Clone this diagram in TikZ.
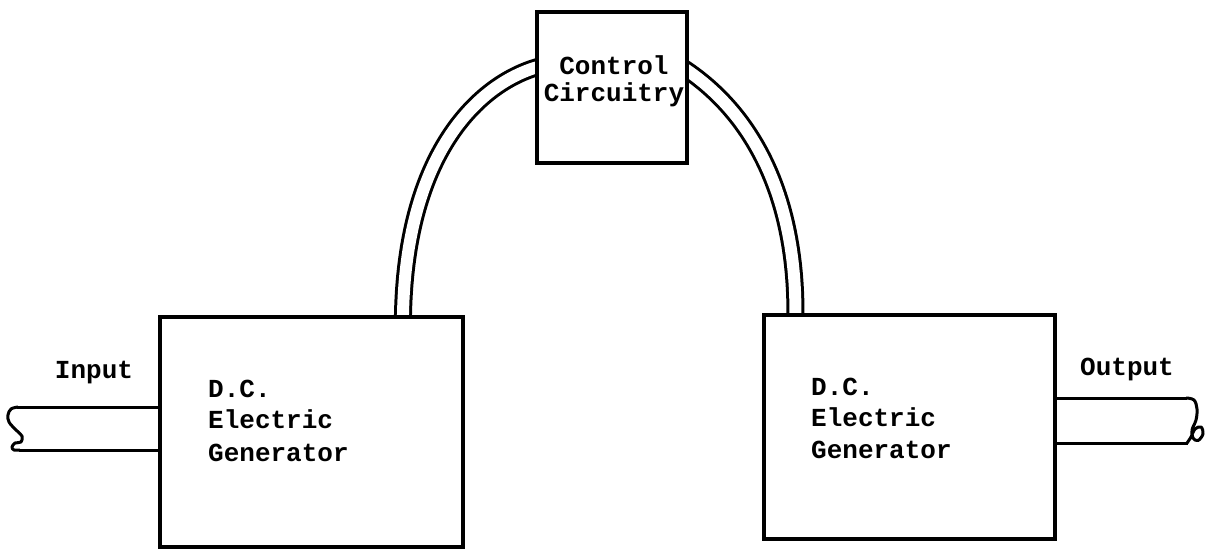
\documentclass[tikz,border=0pt]{standalone}
\usepackage{fontspec}
\setmonofont{Liberation Mono}
\usetikzlibrary{backgrounds}
\begin{document}
\begin{tikzpicture}[x=1pt,y=-1pt,
  box/.style={draw, line width=3.2pt, fill=white, inner sep=0pt},
  cable/.style={draw=black, line width=3pt, double=white, double distance=12pt},
  shaft/.style={draw, line width=3pt, line join=round},
  txt/.style={font=\ttfamily\bfseries\fontsize{26}{26}\selectfont, inner sep=0pt, anchor=base west},
  ctxt/.style={font=\ttfamily\bfseries\fontsize{26}{26}\selectfont, inner sep=0pt, anchor=base}]
\useasboundingbox (0,0) rectangle (1210,550);

% boxes
\node[box, minimum width=303pt, minimum height=230pt] (gen1) at (311.5,432) {};
\node[box, minimum width=291pt, minimum height=224pt] (gen2) at (909.5,427) {};
\node[box, minimum width=150pt, minimum height=151pt] (ctrl) at (612,87.5) {};

% texts
\node[txt] (g1a) at (208,397) {D.C.};
\node[txt] (g1b) at (208,428) {Electric};
\node[txt] (g1c) at (208,461.5) {Generator};
\node[txt] (g2a) at (811,395) {D.C.};
\node[txt] (g2b) at (811,426.5) {Electric};
\node[txt] (g2c) at (811,458.5) {Generator};
\node[ctxt] (c1) at (614,74) {Control};
\node[ctxt] (c2) at (614,101.5) {Circuitry};
\node[ctxt] (inlbl) at (94,378) {Input};
\node[ctxt] (outlbl) at (1127,375) {Output};

% cables
\begin{scope}[on background layer]
\draw[cable] ([xshift=244.5pt, yshift=-5pt]gen1.north west)
  .. controls (404.5,150) and (482,81) .. ([xshift=6pt, yshift=21.5pt]ctrl.west);
\draw[cable] ([xshift=-5pt, yshift=19.5pt]ctrl.east)
  .. controls (755,115) and (797,200) .. ([xshift=33pt, yshift=-5pt]gen2.north west);
\end{scope}

% input shaft
\coordinate (inT) at (17,407);
\coordinate (inB) at (19,450);
\draw[shaft] (inT) -- (inT -| gen1.west);
\draw[shaft] (inB) -- (inB -| gen1.west);
\draw[shaft] plot[smooth, tension=0.6] coordinates {(18,407) (11,409) (8,415) (9,422) (16,430) (22,436) (21,442) (15,443) (12,447) (14,450) (20,450)};

% output shaft
\coordinate (outT) at (1187,398);
\coordinate (outB) at (1188,443);
\draw[shaft] (outT -| gen2.east) -- (outT);
\draw[shaft] (outB -| gen2.east) -- (outB);
\draw[shaft] plot[smooth, tension=0.6] coordinates {(1186,398) (1194,400) (1197,409) (1196,420) (1192,430) (1193,438) (1198,440.5) (1203,434) (1201,427) (1195,429) (1191,437) (1187,443)};
\end{tikzpicture}
\end{document}
